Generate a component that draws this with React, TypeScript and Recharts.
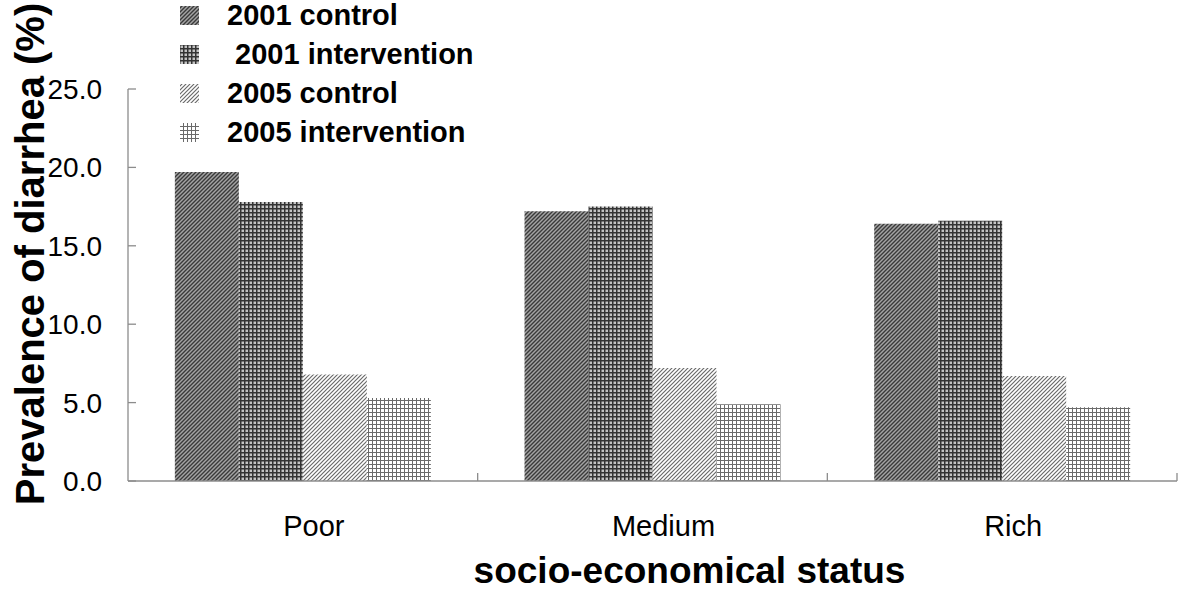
import React from "react";
import { BarChart, Bar, XAxis, YAxis, Legend, Label } from "recharts";

const categories = ["Poor", "Medium", "Rich"];
const control2001 = [19.7, 17.2, 16.4];
const intervention2001 = [17.8, 17.5, 16.6];
const control2005 = [6.8, 7.2, 6.7];
const intervention2005 = [5.3, 4.9, 4.7];
const yTicks = [0, 5, 10, 15, 20, 25];

const seriesKeys = ["c2001", "i2001", "c2005", "i2005"];
const seriesNames = ["2001 control", " 2001 intervention", "2005 control", "2005 intervention"];
const patternIds = ["pat1", "pat2", "pat3", "pat4"];

const data = categories.map((name, i) => ({
  name,
  c2001: control2001[i],
  i2001: intervention2001[i],
  c2005: control2005[i],
  i2005: intervention2005[i],
}));

const FONT = "'Liberation Sans', Arial, Helvetica, sans-serif";
const AXIS = "#8c8c8c";

const XTick = (props: any) => {
  const { x, y, payload } = props;
  const off = payload && typeof payload.offset === "number" ? payload.offset : null;
  return (
    <g>
      {off !== null && (
        <line x1={x + off} x2={x + off} y1={y} y2={y - 8} stroke={AXIS} strokeWidth={1.3} />
      )}
      <text x={x + 11} y={y + 55} textAnchor="middle" fontSize={29} fontFamily={FONT} fill="#000">
        {payload.value}
      </text>
    </g>
  );
};

const YTitle = (props: any) => {
  const vb = props.viewBox || {};
  const cx = (vb.x || 0) + 44;
  const cy = (vb.y || 0) + (vb.height || 0) / 2 - 31;
  return (
    <text
      x={cx}
      y={cy}
      transform={`rotate(-90, ${cx}, ${cy})`}
      textAnchor="middle"
      fontSize={40}
      fontWeight="bold"
      fontFamily={FONT}
      fill="#000"
    >
      Prevalence of diarrhea (%)
    </text>
  );
};

const XTitle = (props: any) => {
  const vb = props.viewBox || {};
  const cx = (vb.x || 0) + (vb.width || 0) / 2 + 37;
  const cy = (vb.y || 0) + 102;
  return (
    <text x={cx} y={cy} textAnchor="middle" fontSize={37} fontWeight="bold" fontFamily={FONT} fill="#000">
      socio-economical status
    </text>
  );
};

const LegendContent = (props: any) => {
  const payload = [...(props.payload || [])].sort(
    (a: any, b: any) => seriesKeys.indexOf(a.dataKey) - seriesKeys.indexOf(b.dataKey)
  );
  return (
    <div style={{ fontFamily: FONT }}>
      {payload.map((entry: any, i: number) => {
        const idx = seriesKeys.indexOf(entry.dataKey);
        return (
          <div key={i} style={{ height: 39, position: "relative" }}>
            <svg width={24} height={22} style={{ position: "absolute", left: 4, top: 5 }}>
              <rect x={1} y={1} width={19} height={19} fill={`url(#${patternIds[idx]})`} />
            </svg>
            <span
              style={{
                position: "absolute",
                left: 52,
                top: 0,
                fontSize: 29,
                fontWeight: "bold",
                whiteSpace: "pre",
                color: "#000",
                lineHeight: "31px",
              }}
            >
              {entry.value}
            </span>
          </div>
        );
      })}
    </div>
  );
};

export default function App() {
  return (
    <div style={{ position: "absolute", left: 0, top: 0, width: 1181, height: 589, background: "#fff" }}>
      <BarChart
        width={1181}
        height={589}
        data={data}
        margin={{ top: 89, right: 4, bottom: 0, left: 0 }}
        barCategoryGap="13.4%"
        barGap={0}
      >
        <defs>
          <pattern id="pat1" width={4} height={4} patternUnits="userSpaceOnUse">
            <rect width={4} height={4} fill="#a4a4a4" />
            <path d="M-1,1 L1,-1 M0,4 L4,0 M3,5 L5,3" stroke="#3a3a3a" strokeWidth={1.4} />
          </pattern>
          <pattern id="pat2" width={4} height={4} patternUnits="userSpaceOnUse">
            <rect width={4} height={4} fill="#c4c4c4" />
            <path d="M0,0.75 H4 M0.75,0 V4" stroke="#333" strokeWidth={1.5} />
          </pattern>
          <pattern id="pat3" width={4} height={4} patternUnits="userSpaceOnUse">
            <rect width={4} height={4} fill="#ffffff" />
            <path d="M-1,1 L1,-1 M0,4 L4,0 M3,5 L5,3" stroke="#6a6a6a" strokeWidth={1.2} />
          </pattern>
          <pattern id="pat4" width={4} height={4} patternUnits="userSpaceOnUse">
            <rect width={4} height={4} fill="#ffffff" />
            <path d="M0,0.5 H4 M0.5,0 V4" stroke="#6a6a6a" strokeWidth={1} />
          </pattern>
        </defs>
        <XAxis
          dataKey="name"
          height={108}
          tickLine={false}
          tickSize={0}
          tickMargin={0}
          axisLine={{ stroke: AXIS, strokeWidth: 1.3 }}
          tick={<XTick />}
          interval={0}
        >
          <Label content={<XTitle />} />
        </XAxis>
        <YAxis
          width={128}
          domain={[0, 25]}
          ticks={yTicks}
          tickFormatter={(v: number) => v.toFixed(1)}
          tickSize={-8}
          tickMargin={34}
          axisLine={{ stroke: AXIS, strokeWidth: 1.3 }}
          tickLine={{ stroke: AXIS, strokeWidth: 1.3 }}
          tick={{ fontSize: 28, fontFamily: FONT, fill: "#000" }}
          interval={0}
        >
          <Label content={<YTitle />} />
        </YAxis>
        <Legend
          layout="vertical"
          align="center"
          verticalAlign="middle"
          content={<LegendContent />}
          wrapperStyle={{ left: 175, top: 0, width: 420, height: 160 }}
        />
        {seriesKeys.map((k, i) => (
          <Bar key={k} dataKey={k} name={seriesNames[i]} fill={`url(#${patternIds[i]})`} isAnimationActive={false} />
        ))}
      </BarChart>
    </div>
  );
}
